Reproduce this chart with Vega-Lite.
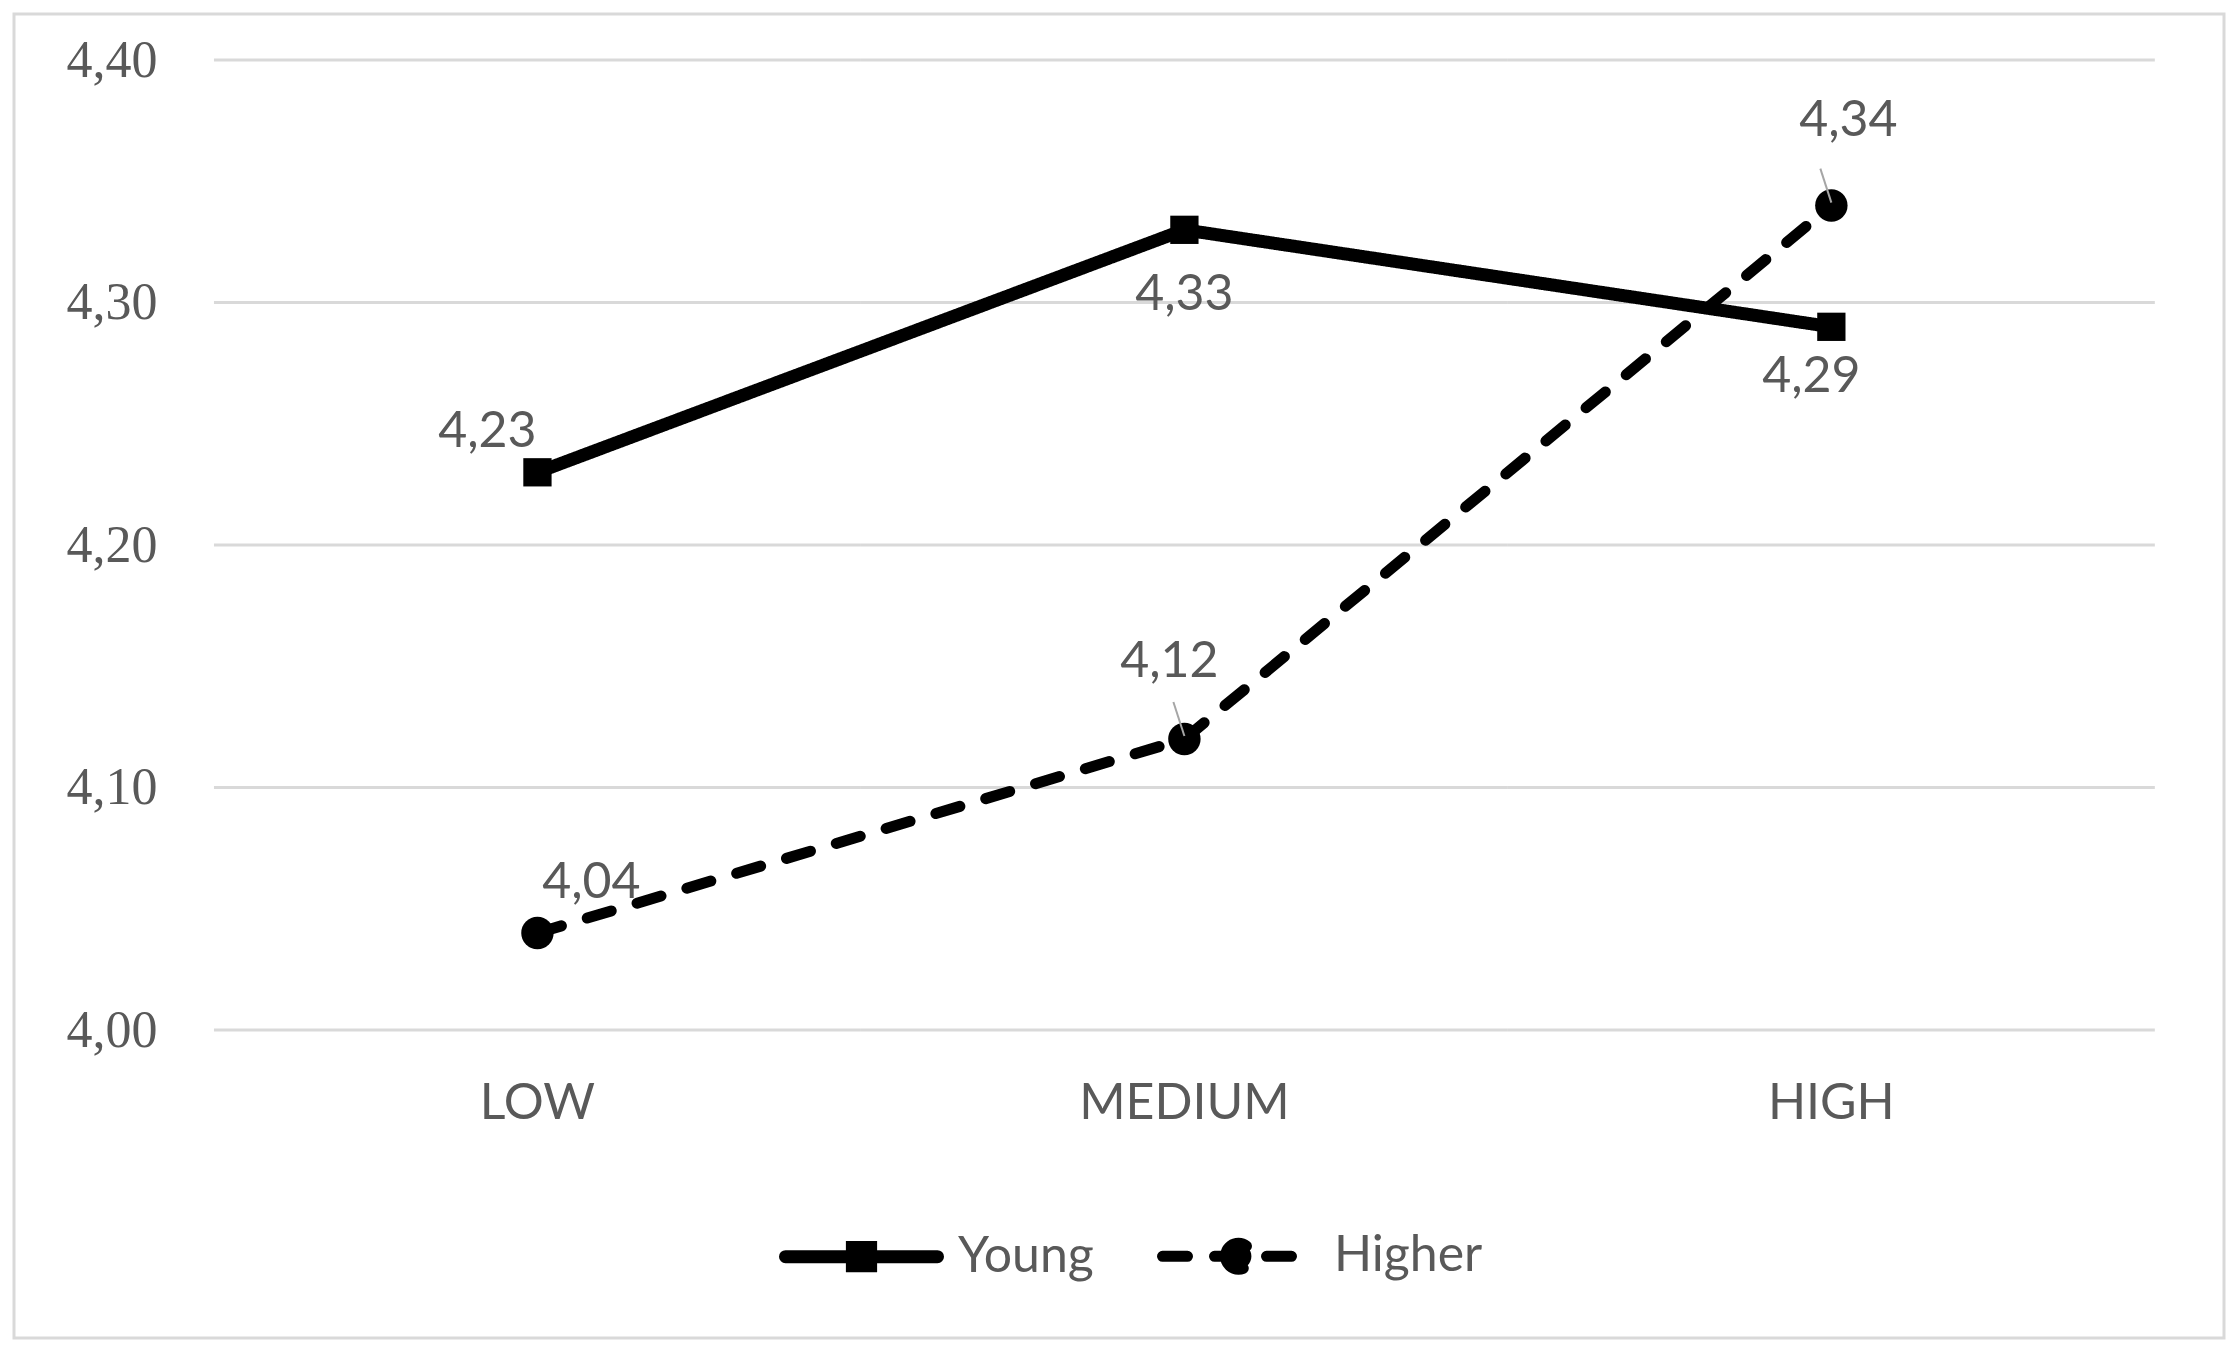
{
  "$schema": "https://vega.github.io/schema/vega-lite/v6.json",
  "width": 2210,
  "height": 1324,
  "autosize": {"type": "none"},
  "padding": {"left": 14, "top": 14, "right": 14, "bottom": 12},
  "background": "white",
  "config": {
    "view": {"stroke": "#d9d9d9", "strokeWidth": 3},
    "font": "Lato",
    "locale": {"number": {"decimal": ",", "thousands": ".", "grouping": [3], "currency": ["", " €"]}}
  },
  "datasets": {
    "series": [
      {"level": "LOW", "group": "Young", "mean": 4.23},
      {"level": "MEDIUM", "group": "Young", "mean": 4.33},
      {"level": "HIGH", "group": "Young", "mean": 4.29},
      {"level": "LOW", "group": "Higher", "mean": 4.04},
      {"level": "MEDIUM", "group": "Higher", "mean": 4.12},
      {"level": "HIGH", "group": "Higher", "mean": 4.34}
    ],
    "grid": [
      {"level": "LOW", "v": 4.0}, {"level": "MEDIUM", "v": 4.0}, {"level": "HIGH", "v": 4.0},
      {"level": "LOW", "v": 4.1}, {"level": "MEDIUM", "v": 4.1}, {"level": "HIGH", "v": 4.1},
      {"level": "LOW", "v": 4.2}, {"level": "MEDIUM", "v": 4.2}, {"level": "HIGH", "v": 4.2},
      {"level": "LOW", "v": 4.3}, {"level": "MEDIUM", "v": 4.3}, {"level": "HIGH", "v": 4.3},
      {"level": "LOW", "v": 4.4}, {"level": "MEDIUM", "v": 4.4}, {"level": "HIGH", "v": 4.4}
    ]
  },
  "encoding": {
    "x": {
      "field": "level",
      "type": "nominal",
      "sort": ["LOW", "MEDIUM", "HIGH"],
      "scale": {"type": "band", "paddingInner": 0, "paddingOuter": 0.208, "align": 0.743},
      "axis": {
        "orient": "bottom",
        "offset": -235,
        "ticks": false,
        "tickSize": 0,
        "domain": false,
        "grid": false,
        "labelPadding": 0,
        "labelBaseline": "middle",
        "labelAngle": 0,
        "labelLimit": 0,
        "labelFont": "Lato",
        "labelFontSize": 50,
        "labelColor": "#595959",
        "title": null
      }
    },
    "y": {
      "field": "mean",
      "type": "quantitative",
      "scale": {"domain": [3.873, 4.419], "nice": false, "zero": false},
      "axis": {
        "values": [4.0, 4.1, 4.2, 4.3, 4.4],
        "format": ".2f",
        "offset": -143,
        "ticks": false,
        "tickSize": 0,
        "domain": false,
        "grid": false,
        "labelPadding": 0,
        "labelFont": "Liberation Serif",
        "labelFontSize": 52,
        "labelColor": "#595959",
        "title": null
      }
    }
  },
  "layer": [
    {
      "data": {"name": "grid"},
      "mark": {"type": "rect", "fill": null, "stroke": "#d9d9d9", "strokeWidth": 3},
      "encoding": {
        "y": {"field": "v", "type": "quantitative"},
        "y2": {"field": "v"}
      }
    },
    {
      "data": {"name": "series"},
      "mark": {"type": "line", "color": "black", "strokeCap": "round"},
      "encoding": {
        "strokeDash": {
          "field": "group",
          "type": "nominal",
          "scale": {"domain": ["Young", "Higher"], "range": [[1, 0], [25, 27]]},
          "legend": {
            "orient": "none",
            "legendX": 765,
            "legendY": 1160,
            "direction": "horizontal",
            "title": null,
            "padding": 0,
            "symbolSize": 23104,
            "symbolStrokeWidth": 11,
            "symbolStrokeColor": "black",
            "symbolFillColor": "black",
            "labelFont": "Lato",
            "labelFontSize": 50,
            "labelColor": "#595959",
            "labelOffset": 14,
            "columnPadding": 46,
            "encode": {
              "symbols": {
                "update": {
                  "shape": {"signal": "datum.value === 'Young' ? 'M-1,0H1M-0.12,-0.12H0.12V0.12H-0.12Z' : 'M-1,0H1M-0.17,0A0.17,0.17 0 1,0 0.17,0A0.17,0.17 0 1,0 -0.17,0Z'"},
                  "size": {"value": 23104},
                  "strokeWidth": {"value": 11},
                  "strokeDash": {"signal": "datum.value === 'Young' ? [1, 0] : [23, 25]"},
                  "fill": {"value": "black"},
                  "stroke": {"value": "black"},
                  "strokeCap": {"value": "round"}
                }
              }
            }
          }
        },
        "strokeWidth": {
          "field": "group",
          "type": "ordinal",
          "scale": {"domain": ["Young", "Higher"], "range": [13, 11]},
          "legend": null
        }
      }
    },
    {
      "data": {"name": "series"},
      "transform": [{"filter": "datum.group === 'Young'"}],
      "mark": {"type": "point", "shape": "square", "size": 800, "filled": true, "color": "black", "opacity": 1}
    },
    {
      "data": {"name": "series"},
      "transform": [{"filter": "datum.group === 'Higher'"}],
      "mark": {"type": "point", "shape": "circle", "size": 1050, "filled": true, "color": "black", "opacity": 1}
    },
    {
      "data": {"name": "series"},
      "transform": [{"filter": "datum.group === 'Higher' && datum.level !== 'LOW'"}],
      "mark": {"type": "rule", "color": "#a6a6a6", "strokeWidth": 2, "xOffset": -11, "yOffset": -37, "x2Offset": 0, "y2Offset": -3},
      "encoding": {"x2": {"field": "level"}, "y2": {"field": "mean"}}
    },
    {
      "data": {"name": "series"},
      "transform": [{"filter": "datum.group === 'Young' && datum.level === 'LOW'"}],
      "mark": {"type": "text", "font": "Lato", "fontSize": 50, "fill": "#595959", "align": "center", "baseline": "middle", "dx": -50, "dy": -40},
      "encoding": {"text": {"field": "mean", "type": "quantitative", "format": ".2f"}}
    },
    {
      "data": {"name": "series"},
      "transform": [{"filter": "datum.group === 'Young' && datum.level === 'MEDIUM'"}],
      "mark": {"type": "text", "font": "Lato", "fontSize": 50, "fill": "#595959", "align": "center", "baseline": "middle", "dx": 0, "dy": 65},
      "encoding": {"text": {"field": "mean", "type": "quantitative", "format": ".2f"}}
    },
    {
      "data": {"name": "series"},
      "transform": [{"filter": "datum.group === 'Young' && datum.level === 'HIGH'"}],
      "mark": {"type": "text", "font": "Lato", "fontSize": 50, "fill": "#595959", "align": "center", "baseline": "middle", "dx": -20, "dy": 50},
      "encoding": {"text": {"field": "mean", "type": "quantitative", "format": ".2f"}}
    },
    {
      "data": {"name": "series"},
      "transform": [{"filter": "datum.group === 'Higher' && datum.level === 'LOW'"}],
      "mark": {"type": "text", "font": "Lato", "fontSize": 50, "fill": "#595959", "align": "center", "baseline": "middle", "dx": 54, "dy": -50},
      "encoding": {"text": {"field": "mean", "type": "quantitative", "format": ".2f"}}
    },
    {
      "data": {"name": "series"},
      "transform": [{"filter": "datum.group === 'Higher' && datum.level === 'MEDIUM'"}],
      "mark": {"type": "text", "font": "Lato", "fontSize": 50, "fill": "#595959", "align": "center", "baseline": "middle", "dx": -15, "dy": -77},
      "encoding": {"text": {"field": "mean", "type": "quantitative", "format": ".2f"}}
    },
    {
      "data": {"name": "series"},
      "transform": [{"filter": "datum.group === 'Higher' && datum.level === 'HIGH'"}],
      "mark": {"type": "text", "font": "Lato", "fontSize": 50, "fill": "#595959", "align": "center", "baseline": "middle", "dx": 17, "dy": -85},
      "encoding": {"text": {"field": "mean", "type": "quantitative", "format": ".2f"}}
    }
  ]
}
